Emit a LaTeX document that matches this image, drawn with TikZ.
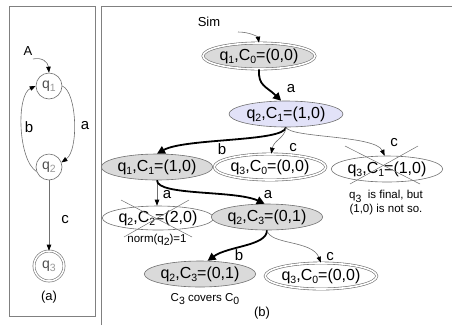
\documentclass[tikz,border=0pt]{standalone}
\usepackage{fontspec}
\setmainfont{Liberation Sans}
\usetikzlibrary{shapes.geometric,arrows.meta,calc}
\definecolor{framegray}{HTML}{808080}
\definecolor{nodegray}{HTML}{DADADA}
\definecolor{nodeblue}{HTML}{E2E2F8}
\definecolor{linegray}{HTML}{707070}
\newcommand{\lo}[1]{\raisebox{-3.2pt}{\fontsize{10.5}{10.5}\selectfont #1}}
\begin{document}
\begin{tikzpicture}[x=1pt,y=-1pt,
  every node/.style={inner sep=0pt, font=\fontsize{16}{16}\selectfont},
  frame/.style={draw=framegray, line width=0.8pt},
  st/.style={ellipse, draw=linegray, line width=0.6pt, minimum width=104pt, minimum height=26pt},
  grayst/.style={st, fill=nodegray},
  bluest/.style={st, fill=nodeblue},
  finalst/.style={st, double=white, double distance=1.6pt},
  circ/.style={circle, draw=linegray, line width=0.6pt, minimum size=26pt, font=\fontsize{14}{14}\selectfont},
  tedge/.style={draw=linegray, line width=0.6pt, -{Triangle[length=6pt,width=4.5pt,color=black]}},
  kedge/.style={draw=black, line width=1.8pt, -{Triangle[length=8pt,width=8pt]}},
  lbl/.style={font=\fontsize{15}{15}\selectfont},
  note/.style={font=\fontsize{11.5}{14}\selectfont, align=center},
  captext/.style={font=\fontsize{13}{13}\selectfont},
  cross/.style={draw=linegray, line width=0.5pt},
]
\useasboundingbox (0,0) rectangle (452,325);

% panel frames
\draw[frame] (9,6) rectangle (95,316);
\draw[frame] (101,325) -- (101,6) -- (452,6);

% ---- (a): the automaton ----
\node[circ] (q1) at (49,86) {\textcolor{black!70}{q}\textcolor{black!40}{\lo{1}}};
\node[circ] (q2) at (49,167) {\textcolor{black!70}{q}\textcolor{black!40}{\lo{2}}};
\node[circ, double=white, double distance=1.5pt, minimum size=30pt] (q3) at (49,266)
  {\textcolor{black!70}{q}\textcolor{black!40}{\lo{3}}};
\node[captext] (A) at (28,51) {A};
\coordinate (a0) at (33,59);
\draw[tedge] (a0) .. controls (42,57) and (48,62) .. (q1.north);
\draw[tedge] (q1.east) .. controls (77,92) and (79,150) .. (q2.20);
\draw[tedge] (q2.200) .. controls (18,160) and (16,95) .. (q1.west);
\draw[tedge] (q2.south) -- (q3.north);
\node[lbl] (la) at (85,126) {a};
\node[lbl] (lb) at (29,127) {b};
\node[lbl] (lc) at (65,220) {c};
\node[captext] (capa) at (49,297) {(a)};

% ---- (b): the simulation tree ----
\node[captext] (sim) at (209,22) {Sim};
\coordinate (s0) at (238,32);

\node[finalst, fill=nodegray, minimum width=112pt] (n0) at (259,56) {q\lo{1},C\lo{0}=(0,0)};
\node[bluest, minimum width=114pt] (n1) at (286,114) {q\lo{2},C\lo{1}=(1,0)};
\node[grayst, minimum width=102pt] (n2) at (157,167) {q\lo{1},C\lo{1}=(1,0)};
\node[finalst, minimum width=108pt] (n3) at (270,167) {q\lo{3},C\lo{0}=(0,0)};
\node[st, minimum width=104pt] (n4) at (387,169) {q\lo{3},C\lo{1}=(1,0)};
\node[st, minimum width=92pt, minimum height=24pt] (n5) at (158,218) {q\lo{2},C\lo{2}=(2,0)};
\node[grayst, minimum width=100pt] (n6) at (267,217) {q\lo{2},C\lo{3}=(0,1)};
\node[grayst, minimum width=100pt] (n7) at (200,274) {q\lo{2},C\lo{3}=(0,1)};
\node[finalst, minimum width=108pt] (n8) at (321,276) {q\lo{3},C\lo{0}=(0,0)};

% rejected configurations
\draw[cross] ($(n4.center)+(-42,-23)$) -- ($(n4.center)+(33,15)$);
\draw[cross] ($(n4.center)+(-37,15)$) -- ($(n4.center)+(31,-23)$);
\draw[cross] ($(n5.center)+(-37,-18)$) -- ($(n5.center)+(34,19)$);
\draw[cross] ($(n5.center)+(-34,19)$) -- ($(n5.center)+(31,-18)$);

% notes
\node[note] (note4) at (386,203) {q\lo{3}\ \ is final, but\\(1,0) is not so.};
\node[note] (note5) at (157,240) {norm(q\lo{2})=1};
\node[note] (note7) at (205,299) {C\lo{3} covers C\lo{0}};
\node[captext] (capb) at (262,313) {(b)};

% transitions
\draw[tedge] (s0) .. controls (250,32) and (258,37) .. (n0.north);
\draw[kedge] (n0.south) .. controls (258,86) and (266,86) .. (n1.110);
\draw[kedge] (n1.south) .. controls (284,142) and (185,138) .. (n2.north);
\draw[tedge] (n1.south) .. controls (285,138) and (274,140) .. (n3.85);
\draw[tedge] (n1.south) .. controls (290,138) and (375,135) .. (n4.100);
\draw[tedge] (n2.south) -- (n2.south |- n5.north);
\draw[kedge] (n2.south) .. controls (157,196) and (235,190) .. (n6.100);
\draw[kedge] (n6.south) .. controls (267,246) and (228,246) .. (n7.60);
\draw[tedge] (n6.south) .. controls (270,245) and (312,240) .. (n8.north);

\node[lbl] (e1) at (291,89) {a};
\node[lbl] (e2) at (222,149) {b};
\node[lbl] (e3) at (293,148) {c};
\node[lbl] (e4) at (394,143) {c};
\node[lbl] (e5) at (167,195) {a};
\node[lbl] (e6) at (268,195) {a};
\node[lbl] (e7) at (239,255) {b};
\node[lbl] (e8) at (330,257) {c};
\end{tikzpicture}
\end{document}
